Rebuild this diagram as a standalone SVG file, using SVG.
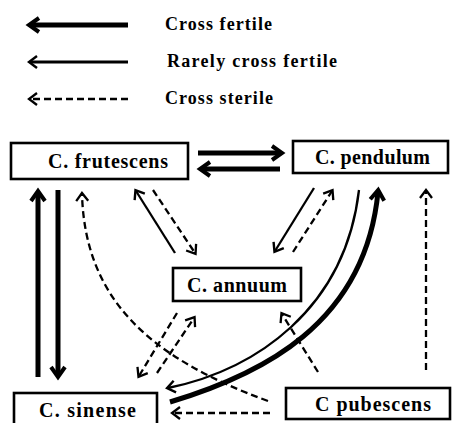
<svg xmlns="http://www.w3.org/2000/svg" width="452" height="423" viewBox="0 0 452 423">
<style>
  .box{fill:#fff;stroke:#000;stroke-width:2.6}
  .lbl{font-family:"Liberation Serif","Times New Roman",serif;font-size:20px;font-weight:bold;fill:#000}
  .leg{font-family:"Liberation Serif","Times New Roman",serif;font-size:18px;font-weight:bold;fill:#000}
  .thick{fill:none;stroke:#000;stroke-width:5;marker-end:url(#hThick)}
  .thin{fill:none;stroke:#000;stroke-width:2.3;marker-end:url(#hThin)}
  .dash{fill:none;stroke:#000;stroke-width:2.3;stroke-dasharray:7 4;marker-end:url(#hDash)}
</style>
<defs>
  <marker id="hThick" markerUnits="userSpaceOnUse" markerWidth="20" markerHeight="20" refX="0" refY="0" orient="auto" overflow="visible">
    <path d="M-8,-7 L2,0 L-8,7" fill="none" stroke="#000" stroke-width="4"/>
  </marker>
  <marker id="hThin" markerUnits="userSpaceOnUse" markerWidth="20" markerHeight="20" refX="0" refY="0" orient="auto" overflow="visible">
    <path d="M-7,-6 L1,0 L-7,6" fill="none" stroke="#000" stroke-width="2.4"/>
  </marker>
  <marker id="hDash" markerUnits="userSpaceOnUse" markerWidth="20" markerHeight="20" refX="0" refY="0" orient="auto" overflow="visible">
    <path d="M-7,-6 L1,0 L-7,6" fill="none" stroke="#000" stroke-width="2.3"/>
  </marker>
</defs>
<rect width="452" height="423" fill="#fff"/>
<g id="legend">
  <line class="thick" x1="128" y1="25" x2="31" y2="25"/>
  <text class="leg" x="165" y="30" textLength="107">Cross fertile</text>
  <line class="thin" x1="128" y1="62" x2="30" y2="62" style="stroke-width:3"/>
  <text class="leg" x="167" y="67" textLength="170">Rarely cross fertile</text>
  <line class="dash" x1="128" y1="99" x2="30" y2="99"/>
  <text class="leg" x="165" y="104" textLength="108">Cross sterile</text>
</g>
<g id="connectors">
  <line class="thick" x1="198" y1="153" x2="280" y2="153"/>
  <line class="thick" x1="280" y1="169" x2="202" y2="169"/>
  <line class="thick" x1="38" y1="377" x2="38" y2="193"/>
  <line class="thick" x1="58" y1="190" x2="58" y2="375"/>
  <line class="thin" x1="175" y1="253" x2="136" y2="191"/>
  <line class="dash" x1="153" y1="190" x2="195" y2="253"/>
  <line class="thin" x1="314" y1="188" x2="275" y2="251"/>
  <line class="dash" x1="293" y1="252" x2="332" y2="191"/>
  <path class="thin" d="M359,190 C345,310 255,370 168,388"/>
  <path class="thick" d="M170,402 C260,375 365,325 378,192"/>
  <path class="dash" d="M268,401 C150,358 85,300 82,194"/>
  <line class="dash" x1="270" y1="413" x2="173" y2="413"/>
  <line class="dash" x1="318" y1="372" x2="282" y2="314"/>
  <line class="dash" x1="426" y1="370" x2="426" y2="191"/>
  <line class="dash" x1="177" y1="313" x2="139" y2="376"/>
  <line class="dash" x1="157" y1="373" x2="194" y2="318"/>
</g>
<g id="frutescens">
  <rect class="box" x="11" y="143" width="177" height="36"/>
  <text class="lbl" x="48" y="168" textLength="120">C. frutescens</text>
</g>
<g id="pendulum">
  <rect class="box" x="293" y="141" width="155" height="32"/>
  <text class="lbl" x="315" y="164" textLength="115">C. pendulum</text>
</g>
<g id="annuum">
  <rect class="box" x="173" y="268" width="128" height="33"/>
  <text class="lbl" x="187" y="292" textLength="100">C. annuum</text>
</g>
<g id="sinense">
  <rect class="box" x="14" y="393" width="143" height="34"/>
  <text class="lbl" x="39" y="417" textLength="97">C. sinense</text>
</g>
<g id="pubescens">
  <rect class="box" x="286" y="388" width="164" height="31"/>
  <text class="lbl" x="315" y="411" textLength="116">C  pubescens</text>
</g>
</svg>
